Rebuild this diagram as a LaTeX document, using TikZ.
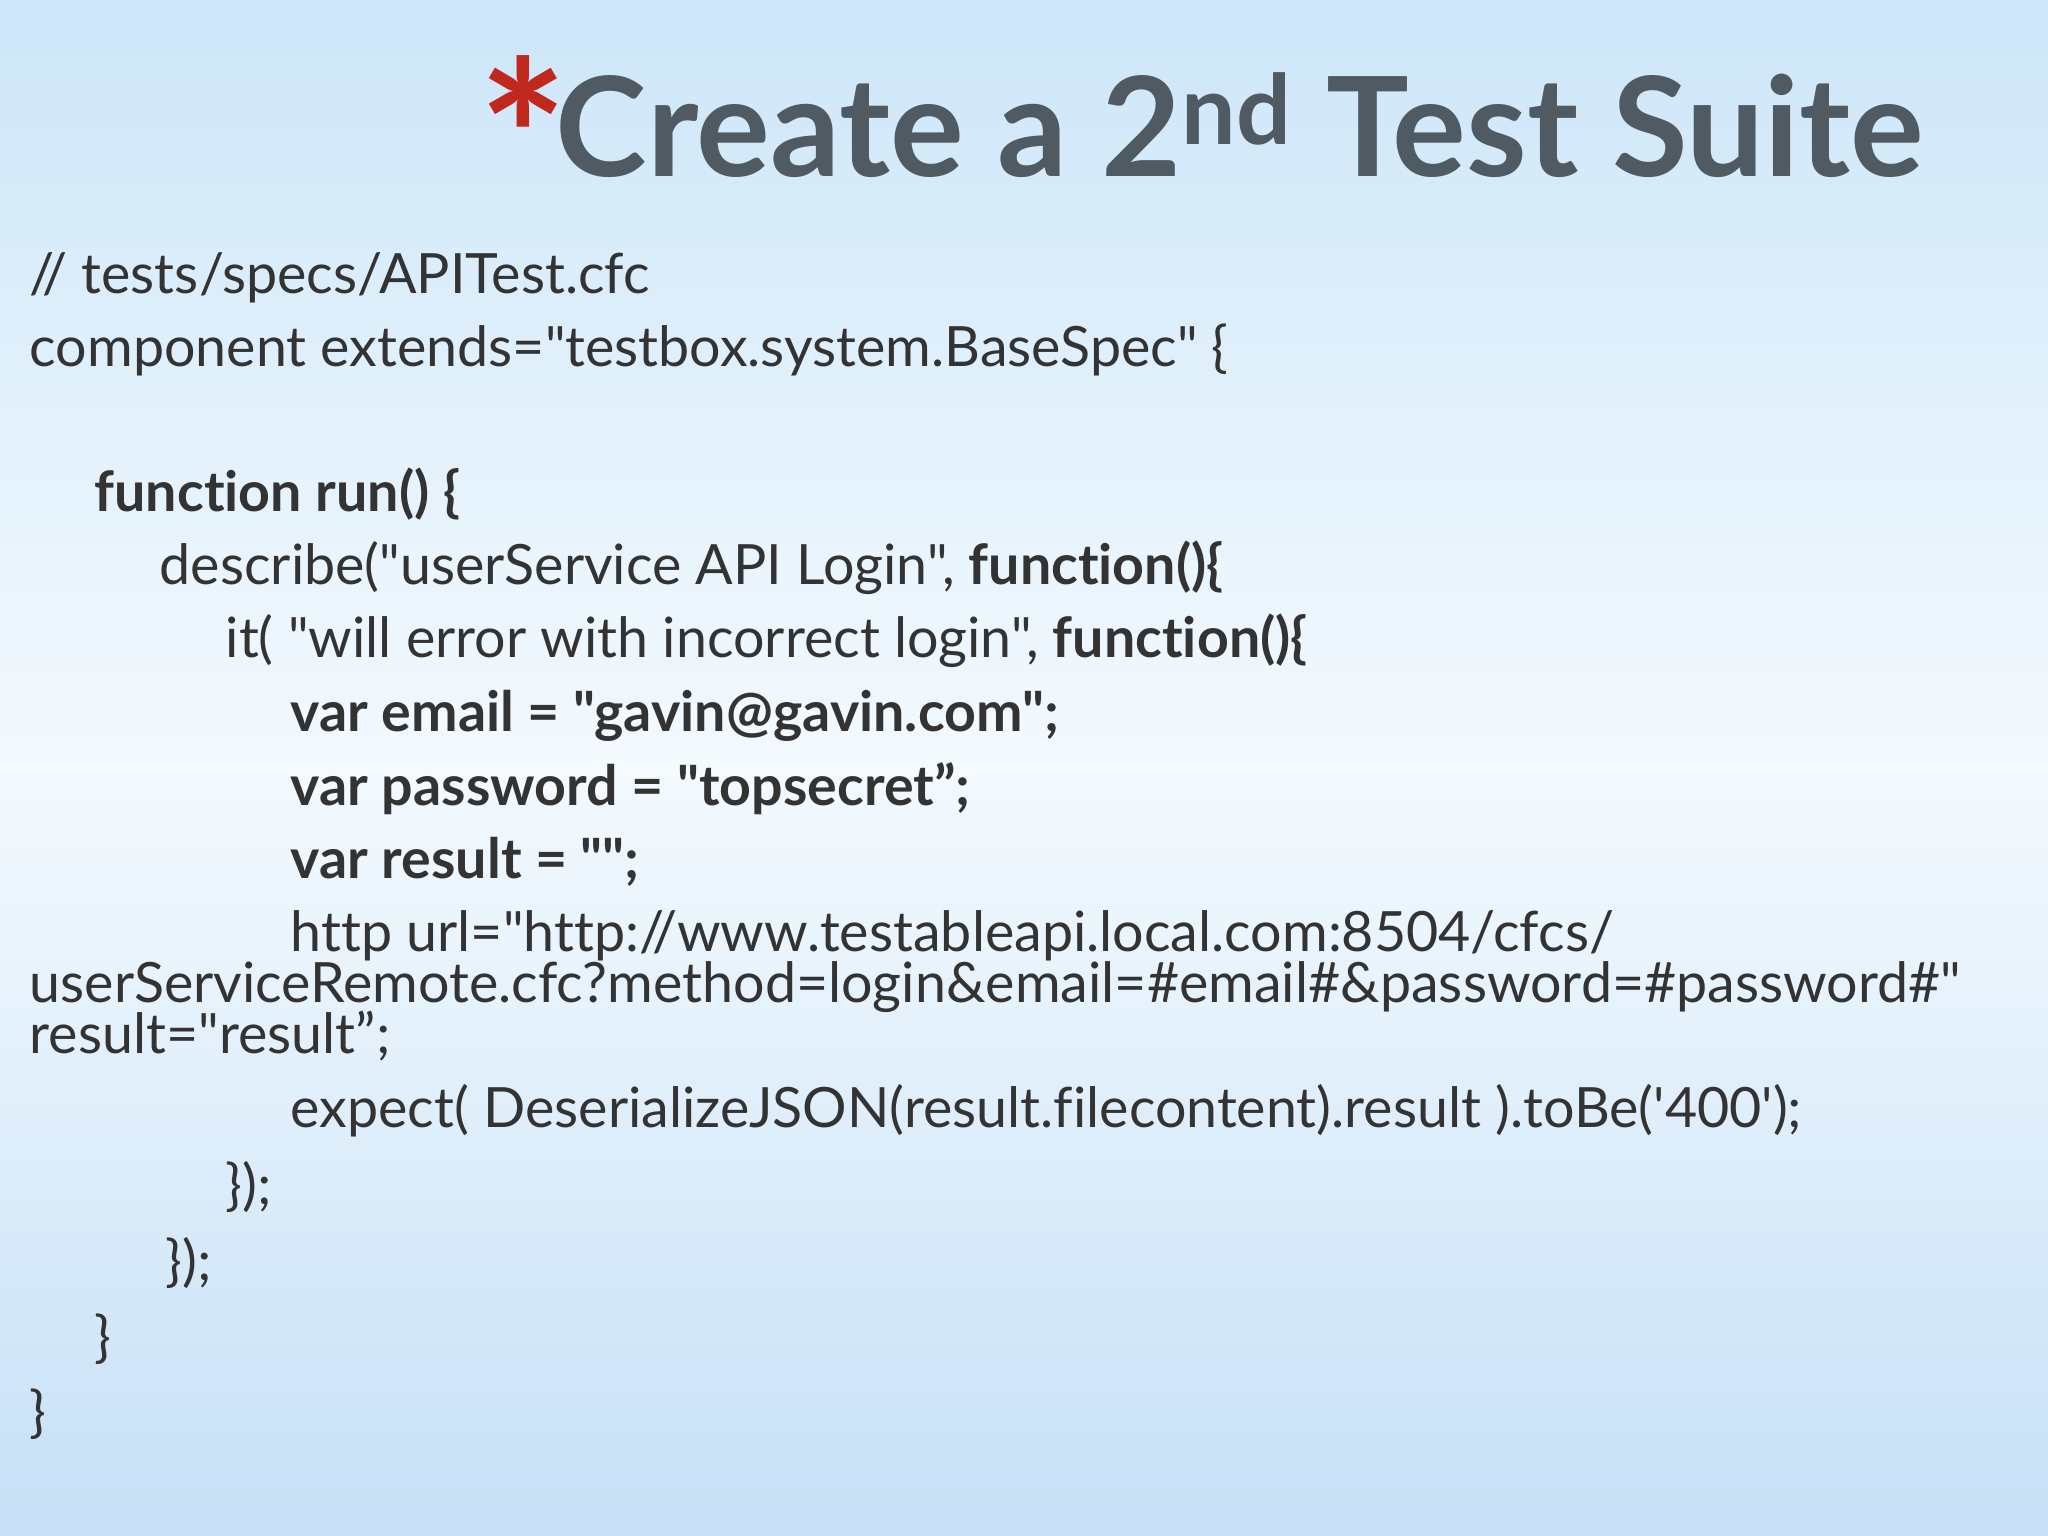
\documentclass[tikz,border=0pt]{standalone}
\usepackage{fontspec}
\setmainfont{Lato}
\newfontfamily\codefont{Lato}[Ligatures=NoCommon]
\newcommand\dq{\symbol{34}}
\newcommand\sq{\symbol{39}}
\definecolor{txt}{HTML}{333333}
\definecolor{ttl}{HTML}{4F5A63}
\definecolor{star}{HTML}{C0281E}
\definecolor{bgtop}{HTML}{CDE6F8}
\definecolor{bgbot}{HTML}{C6E0F6}
\definecolor{bgmid}{HTML}{F4FAFE}
\tikzset{code/.style={anchor=base west,inner sep=0pt,text=txt,font=\codefont\fontsize{15.8}{18}\selectfont}}
\begin{document}
\begin{tikzpicture}[x=0.01cm,y=-0.01cm]
\useasboundingbox (0,0) rectangle (2048,1536);
\shade[top color=bgtop,bottom color=bgbot,middle color=bgmid] (0,0) rectangle (2048,1536);
\node[anchor=base west,inner sep=0pt,text=star,font=\bfseries\fontsize{60}{60}\selectfont] (st) at (478,215) {*};
\node[anchor=base west,inner sep=0pt,text=ttl,font=\bfseries\fontsize{39.3}{40}\selectfont] (title) at (555,176) {Create a 2\textsuperscript{nd} Test Suite};
\node[code] (l1) at (29,293) {// tests/specs/APITest.cfc};
\node[code] (l2) at (29,366) {component extends=\dq testbox.system.BaseSpec\dq{} \{};
\node[code] (l3) at (94,511) {\bfseries function run() \{};
\node[code] (l4) at (159,584) {describe(\dq userService API Login\dq, \textbf{function()\{}};
\node[code] (l5) at (225,657) {it( \dq will error with incorrect login\dq, \textbf{function()\{}};
\node[code] (l6) at (290,731) {\bfseries var email = \dq gavin@gavin.com\dq;};
\node[code] (l7) at (290,805) {\bfseries var password = \dq topsecret”;};
\node[code] (l8) at (290,878) {\bfseries var result = \dq\dq;};
\node[code] (l9) at (290,951) {http url=\dq http://www.testableapi.local.com:8504/cfcs/};
\node[code] (l10) at (29,1002) {userServiceRemote.cfc?method=login\&email=\#email\#\&password=\#password\#\dq};
\node[code] (l11) at (29,1053) {result=\dq result”;};
\node[code] (l12) at (290,1127) {expect( DeserializeJSON(result.filecontent).result ).toBe(\sq 400\sq);};
\node[code] (l13) at (225,1204) {\});};
\node[code] (l14) at (165,1280) {\});};
\node[code] (l15) at (94,1356) {\}};
\node[code] (l16) at (29,1431) {\}};
\end{tikzpicture}
\end{document}
